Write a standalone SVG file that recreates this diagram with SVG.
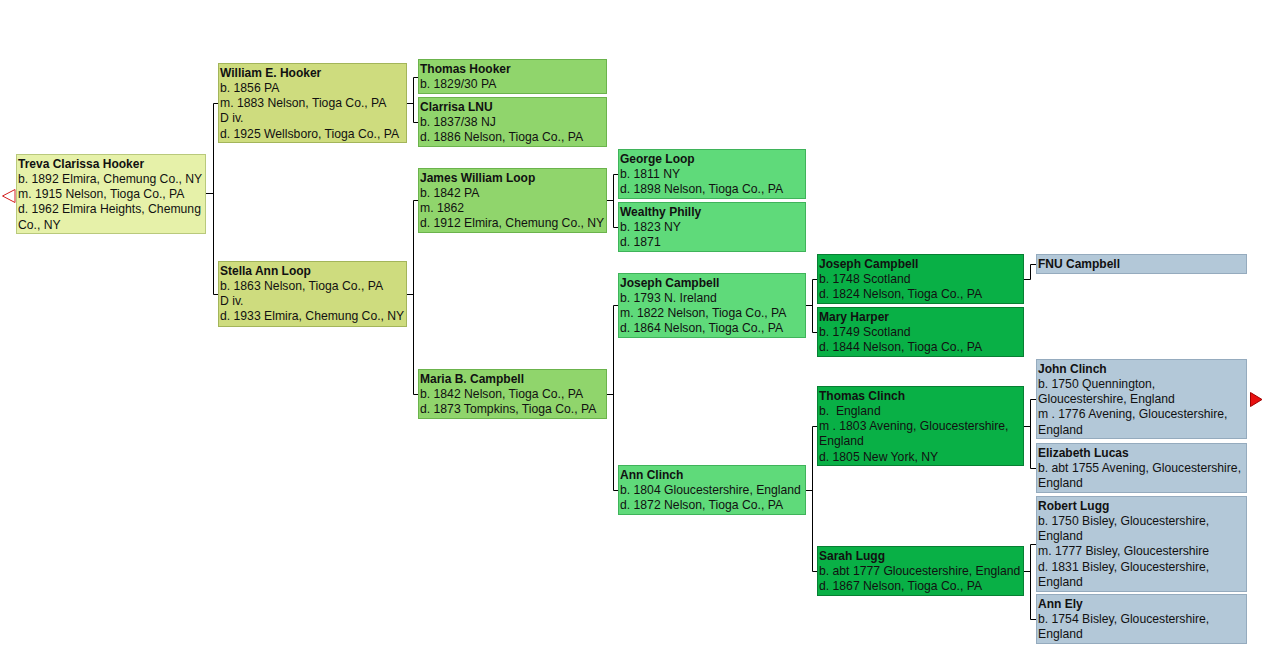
<svg xmlns="http://www.w3.org/2000/svg" width="1263" height="665" viewBox="0 0 1263 665">
<style>
text{font-family:"Liberation Sans",Arial,sans-serif;fill:#111;white-space:pre}
.n{font-weight:bold;font-size:12px}
.t{font-size:12.2px}
rect{stroke-width:1}
.g0{fill:#e6f1a9;stroke:#b9c97c}
.g1{fill:#cedc7e;stroke:#a3b55a}
.g2{fill:#90d56c;stroke:#6bb34c}
.g3{fill:#5fda7a;stroke:#3fb35a}
.g4{fill:#09b046;stroke:#077f33}
.g5{fill:#b3c8d8;stroke:#95abbe}
.c{fill:none;stroke:#000;stroke-width:1}
</style>
<g id="connectors">
<path class="c" d="M206 193.5H213.5M218 103.5H213.5V294.5H218"/>
<path class="c" d="M407 103.5H413.5M418 77.5H413.5V122.5H418"/>
<path class="c" d="M407 294.5H413.5M418 200.5H413.5V394.5H418"/>
<path class="c" d="M607 200.5H613.5M618 174.5H613.5V227.5H618"/>
<path class="c" d="M607 394.5H613.5M618 305.5H613.5V490.5H618"/>
<path class="c" d="M806 305.5H812.5M817 279.5H812.5V332.5H817"/>
<path class="c" d="M806 490.5H812.5M817 426.5H812.5V571.5H817"/>
<path class="c" d="M1024 279.5H1030.5V264.5H1036"/>
<path class="c" d="M1024 426.5H1030.5M1036 399.5H1030.5V468.5H1036"/>
<path class="c" d="M1024 571.5H1030.5M1036 544.5H1030.5V619.5H1036"/>
</g>
<g id="arrows">
<polygon points="15,189.5 2.5,196 15,202.5" fill="#fff" stroke="#d42020"/>
<polygon points="1250.5,392.5 1262,399.5 1250.5,406.5" fill="#e81010" stroke="#a00000"/>
</g>
<g id="treva">
<rect class="g0" x="16.5" y="154.5" width="189" height="79"/>
<text x="18" y="167.5" class="n">Treva Clarissa Hooker</text>
<text x="18" y="182.75" class="t">b. 1892 Elmira, Chemung Co., NY</text>
<text x="18" y="198" class="t">m. 1915 Nelson, Tioga Co., PA</text>
<text x="18" y="213.25" class="t">d. 1962 Elmira Heights, Chemung</text>
<text x="18" y="228.5" class="t">Co., NY</text>
</g>
<g id="william">
<rect class="g1" x="218.5" y="63.5" width="188" height="79"/>
<text x="220" y="76.5" class="n">William E. Hooker</text>
<text x="220" y="91.75" class="t">b. 1856 PA</text>
<text x="220" y="107" class="t">m. 1883 Nelson, Tioga Co., PA</text>
<text x="220" y="122.25" class="t">D iv.</text>
<text x="220" y="137.5" class="t">d. 1925 Wellsboro, Tioga Co., PA</text>
</g>
<g id="stella">
<rect class="g1" x="218.5" y="261.5" width="188" height="65"/>
<text x="220" y="274.5" class="n">Stella Ann Loop</text>
<text x="220" y="289.75" class="t">b. 1863 Nelson, Tioga Co., PA</text>
<text x="220" y="305" class="t">D iv.</text>
<text x="220" y="320.25" class="t">d. 1933 Elmira, Chemung Co., NY</text>
</g>
<g id="thomas-hooker">
<rect class="g2" x="418.5" y="59.5" width="188" height="34"/>
<text x="420" y="72.5" class="n">Thomas Hooker</text>
<text x="420" y="87.75" class="t">b. 1829/30 PA</text>
</g>
<g id="clarrisa">
<rect class="g2" x="418.5" y="97.5" width="188" height="49"/>
<text x="420" y="110.5" class="n">Clarrisa LNU</text>
<text x="420" y="125.75" class="t">b. 1837/38 NJ</text>
<text x="420" y="141" class="t">d. 1886 Nelson, Tioga Co., PA</text>
</g>
<g id="james">
<rect class="g2" x="418.5" y="168.5" width="188" height="64"/>
<text x="420" y="181.5" class="n">James William Loop</text>
<text x="420" y="196.75" class="t">b. 1842 PA</text>
<text x="420" y="212" class="t">m. 1862</text>
<text x="420" y="227.25" class="t">d. 1912 Elmira, Chemung Co., NY</text>
</g>
<g id="maria">
<rect class="g2" x="418.5" y="369.5" width="188" height="49"/>
<text x="420" y="382.5" class="n">Maria B. Campbell</text>
<text x="420" y="397.75" class="t">b. 1842 Nelson, Tioga Co., PA</text>
<text x="420" y="413" class="t">d. 1873 Tompkins, Tioga Co., PA</text>
</g>
<g id="george">
<rect class="g3" x="618.5" y="149.5" width="187" height="49"/>
<text x="620" y="162.5" class="n">George Loop</text>
<text x="620" y="177.75" class="t">b. 1811 NY</text>
<text x="620" y="193" class="t">d. 1898 Nelson, Tioga Co., PA</text>
</g>
<g id="wealthy">
<rect class="g3" x="618.5" y="202.5" width="187" height="49"/>
<text x="620" y="215.5" class="n">Wealthy Philly</text>
<text x="620" y="230.75" class="t">b. 1823 NY</text>
<text x="620" y="246" class="t">d. 1871</text>
</g>
<g id="joseph-campbell-1793">
<rect class="g3" x="618.5" y="273.5" width="187" height="64"/>
<text x="620" y="286.5" class="n">Joseph Campbell</text>
<text x="620" y="301.75" class="t">b. 1793 N. Ireland</text>
<text x="620" y="317" class="t">m. 1822 Nelson, Tioga Co., PA</text>
<text x="620" y="332.25" class="t">d. 1864 Nelson, Tioga Co., PA</text>
</g>
<g id="ann-clinch">
<rect class="g3" x="618.5" y="465.5" width="187" height="49"/>
<text x="620" y="478.5" class="n">Ann Clinch</text>
<text x="620" y="493.75" class="t">b. 1804 Gloucestershire, England</text>
<text x="620" y="509" class="t">d. 1872 Nelson, Tioga Co., PA</text>
</g>
<g id="joseph-campbell-1748">
<rect class="g4" x="817.5" y="254.5" width="206" height="49"/>
<text x="819" y="267.5" class="n">Joseph Campbell</text>
<text x="819" y="282.75" class="t">b. 1748 Scotland</text>
<text x="819" y="298" class="t">d. 1824 Nelson, Tioga Co., PA</text>
</g>
<g id="mary-harper">
<rect class="g4" x="817.5" y="307.5" width="206" height="49"/>
<text x="819" y="320.5" class="n">Mary Harper</text>
<text x="819" y="335.75" class="t">b. 1749 Scotland</text>
<text x="819" y="351" class="t">d. 1844 Nelson, Tioga Co., PA</text>
</g>
<g id="thomas-clinch">
<rect class="g4" x="817.5" y="386.5" width="206" height="79"/>
<text x="819" y="399.5" class="n">Thomas Clinch</text>
<text x="819" y="414.75" class="t">b.  England</text>
<text x="819" y="430" class="t">m . 1803 Avening, Gloucestershire,</text>
<text x="819" y="445.25" class="t">England</text>
<text x="819" y="460.5" class="t">d. 1805 New York, NY</text>
</g>
<g id="sarah-lugg">
<rect class="g4" x="817.5" y="546.5" width="206" height="49"/>
<text x="819" y="559.5" class="n">Sarah Lugg</text>
<text x="819" y="574.75" class="t">b. abt 1777 Gloucestershire, England</text>
<text x="819" y="590" class="t">d. 1867 Nelson, Tioga Co., PA</text>
</g>
<g id="fnu-campbell">
<rect class="g5" x="1036.5" y="254.5" width="210" height="19"/>
<text x="1038" y="267.5" class="n">FNU Campbell</text>
</g>
<g id="john-clinch">
<rect class="g5" x="1036.5" y="359.5" width="210" height="79"/>
<text x="1038" y="372.5" class="n">John Clinch</text>
<text x="1038" y="387.75" class="t">b. 1750 Quennington,</text>
<text x="1038" y="403" class="t">Gloucestershire, England</text>
<text x="1038" y="418.25" class="t">m . 1776 Avening, Gloucestershire,</text>
<text x="1038" y="433.5" class="t">England</text>
</g>
<g id="elizabeth-lucas">
<rect class="g5" x="1036.5" y="443.5" width="210" height="49"/>
<text x="1038" y="456.5" class="n">Elizabeth Lucas</text>
<text x="1038" y="471.75" class="t">b. abt 1755 Avening, Gloucestershire,</text>
<text x="1038" y="487" class="t">England</text>
</g>
<g id="robert-lugg">
<rect class="g5" x="1036.5" y="496.5" width="210" height="95"/>
<text x="1038" y="509.5" class="n">Robert Lugg</text>
<text x="1038" y="524.75" class="t">b. 1750 Bisley, Gloucestershire,</text>
<text x="1038" y="540" class="t">England</text>
<text x="1038" y="555.25" class="t">m. 1777 Bisley, Gloucestershire</text>
<text x="1038" y="570.5" class="t">d. 1831 Bisley, Gloucestershire,</text>
<text x="1038" y="585.75" class="t">England</text>
</g>
<g id="ann-ely">
<rect class="g5" x="1036.5" y="594.5" width="210" height="49"/>
<text x="1038" y="607.5" class="n">Ann Ely</text>
<text x="1038" y="622.75" class="t">b. 1754 Bisley, Gloucestershire,</text>
<text x="1038" y="638" class="t">England</text>
</g>
</svg>
